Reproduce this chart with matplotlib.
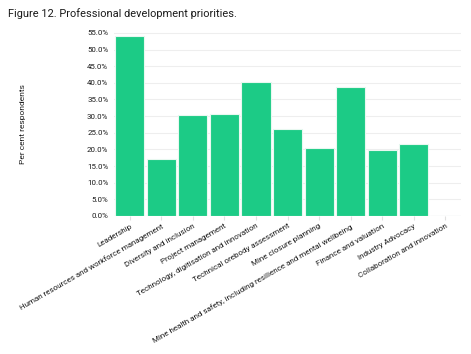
import matplotlib.pyplot as plt
from matplotlib.ticker import FuncFormatter, MultipleLocator

categories = [
    "Leadership",
    "Human resources and workforce management",
    "Diversity and inclusion",
    "Project management",
    "Technology, digitisation and innovation",
    "Technical orebody assessment",
    "Mine closure planning",
    "Mine health and safety, including resilience and mental wellbeing",
    "Finance and valuation",
    "Industry Advocacy",
    "Collaboration and innovation",
]
percent = [54.2, 17.0, 30.2, 30.6, 40.1, 26.0, 20.3, 38.7, 19.8, 21.5, 0.0]

plt.rcParams['font.family'] = ['Roboto', 'DejaVu Sans']

fig = plt.figure(figsize=(4.71, 3.54), dpi=100, facecolor='white')
ax = fig.add_axes([0.242, 0.39, 0.737, 0.52])

x = range(len(categories))
ax.bar(x, percent, width=0.92, color='#1ccb86', edgecolor='#e8f8f0', linewidth=0.8, zorder=3)

ax.set_xlim(-0.5, len(categories) - 0.5)
ax.set_ylim(0, 55.3)
ax.yaxis.set_major_locator(MultipleLocator(5))
ax.yaxis.set_major_formatter(FuncFormatter(lambda v, p: f"{v:.1f}%"))
ax.grid(axis='y', color='#eeeeee', linewidth=0.8, zorder=0)

for s in ax.spines.values():
    s.set_visible(False)
ax.axhline(0, color='#e2e2e2', linewidth=0.8, zorder=2)

ax.tick_params(axis='y', length=0, labelsize=5.7, pad=4, labelcolor='#1a1a1a')
ax.tick_params(axis='x', length=3, color='#e0e0e0', labelsize=5.8, pad=2, labelcolor='#1a1a1a')
ax.set_xticks(list(x))
ax.set_xticklabels(categories, rotation=30, ha='right', rotation_mode='anchor')

ax.set_ylabel("Per cent respondents", fontsize=6, color='#1a1a1a', labelpad=44)

fig.text(0.017, 0.962, "Figure 12. Professional development priorities.", fontsize=7.9,
         color='#1a1a1a', va='center', ha='left')

fig.savefig('out.png', dpi=100, facecolor='white')
